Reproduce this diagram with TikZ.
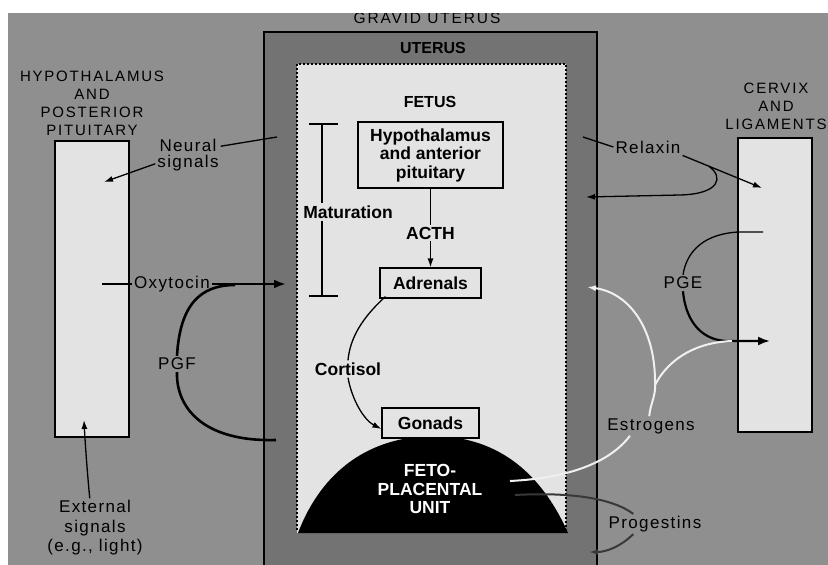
\documentclass[tikz,border=0pt]{standalone}
\usepackage{fontspec}
\setmainfont{Liberation Sans}
\newfontfamily\capsfont[LetterSpace=12]{Liberation Sans}
\newfontfamily\lblfont[LetterSpace=8]{Liberation Sans}
\usepackage{tikz}
\usetikzlibrary{positioning,arrows.meta,calc}
\usepackage{xcolor}
\definecolor{bggray}{gray}{0.56}
\definecolor{wallgray}{gray}{0.45}
\definecolor{paper}{gray}{0.89}
\definecolor{progray}{gray}{0.22}

\begin{document}
\begin{tikzpicture}[x=1pt,y=-1pt,>={Latex[length=9pt,width=6pt]},
  organ/.style={draw,fill=paper,line width=1.2pt,minimum width=74pt,inner sep=0pt},
  head/.style={font=\capsfont\fontsize{15}{18}\selectfont,align=center,inner sep=1pt},
  lbl/.style={font=\lblfont\fontsize{17}{19.5}\selectfont,align=center,inner sep=2pt},
  inlbl/.style={font=\bfseries\fontsize{17.5}{18.5}\selectfont,align=center,inner sep=2pt},
  inbox/.style={inlbl,draw,line width=1.2pt,fill=paper},
  conn/.style={line width=1.3pt},
  hormone/.style={line width=2.6pt,>={Latex[length=12pt,width=9pt]}},
  estro/.style={line width=2pt,draw=white!94!black,>={Latex[length=9pt,width=6pt]}}]
\useasboundingbox (0,0) rectangle (828,565);
\fill[white] (0,0) rectangle (828,565);
\fill[bggray] (8,13) rectangle (828,565);
\node[head,font=\capsfont\fontsize{15.5}{18}\selectfont] (grav) at (427,18) {GRAVID UTERUS};
\fill[white] (0,0) rectangle (828,13);
% uterus wall and fetus
\draw[fill=wallgray,line width=1.2pt] (264,32) rectangle (597,580);
\fill[paper] (297,64) rectangle (566,533);
\draw[line width=2pt,dash pattern=on 2pt off 2pt] (297,530) -- (297,64) -- (566,64) -- (566,530);
\fill[black] (298,533) .. controls (322,470) and (370,437) .. (432,436)
  .. controls (495,436) and (540,470) .. (568,533) -- cycle;
\node[inlbl,font=\bfseries\fontsize{16}{18}\selectfont] (ut) at (433,48) {UTERUS};
\node[inlbl,font=\bfseries\fontsize{16}{18}\selectfont] (fetus) at (430,102) {FETUS};
\node[inbox,minimum width=145pt,minimum height=66pt] (hyp) at (430.5,155) {Hypothalamus\\and anterior\\pituitary};
\node[inlbl] (acth) at (430.5,233) {ACTH};
\node[inbox,minimum width=101pt,minimum height=30pt,inner sep=0pt] (adr) at (430.5,283) {Adrenals};
\node[inbox,minimum width=97pt,minimum height=30pt,inner sep=0pt] (gon) at (430.5,423) {Gonads};
\node[inlbl,text=white] (fpu) at (430,489) {FETO-\\PLACENTAL\\UNIT};
\node[inlbl] (mat) at (348,212) {Maturation};
\node[inlbl] (cort) at (348,369) {Cortisol};
% side organs
\node[organ,minimum height=296pt] (hpp) at (92,289) {};
\node[head] (hpplbl) at (92,103) {HYPOTHALAMUS\\AND\\POSTERIOR\\PITUITARY};
\node[organ,minimum height=294pt] (cvx) at (775,285) {};
\node[head] (cvxlbl) at (776,106) {CERVIX\\AND\\LIGAMENTS};
% signal labels
\node[lbl] (neural) at (188,155) {Neural\\[-3.5pt]signals};
\node[lbl] (oxy) at (172,284) {Oxytocin};
\node[lbl] (pgf) at (177,364) {PGF};
\node[lbl] (ext) at (95,528) {External\\signals\\(e.g., light)};
\node[lbl] (relax) at (648,147) {Relaxin};
\node[lbl] (pge) at (683,283) {PGE};
\node[lbl] (est) at (651,426) {Estrogens};
\node[lbl] (prog) at (655,524) {Progestins};
% end points
\coordinate (nwall) at (277,137);
\coordinate (ntip) at (104,182);
\coordinate (ostart) at (102,284);
\coordinate (otip) at (286,284);
\coordinate (pgfwall) at (276,440);
\coordinate (etip) at (84,420);
\coordinate (rwall) at (583,137);
\coordinate (rtip) at (762,188);
\coordinate (rback) at (586,197);
\coordinate (pgein) at (763,232);
\coordinate (pgetip) at (770,341);
\coordinate (efpu) at (510,481);
\coordinate (ejoin) at (655,385);
\coordinate (etipl) at (587,287);
\coordinate (pfpu) at (515,495);
\coordinate (ptip) at (589,552);
\coordinate (mtop) at (322,124);
\coordinate (mbot) at (322,296);
% fetal axis
\draw[conn] (hyp) -- (acth);
\draw[conn,->] (acth) -- (adr);
\draw[conn] (mtop) -- (mtop |- mat.north);
\draw[conn] (mat.south -| mbot) -- (mbot);
\draw[conn] ([xshift=-13pt]mtop) -- ([xshift=16pt]mtop);
\draw[conn] ([xshift=-13pt]mbot) -- ([xshift=16pt]mbot);
\draw[conn] ([xshift=6pt,yshift=2pt]adr.south west) .. controls (362,318) and (350,338) .. (cort.north);
\draw[conn,->] (cort.south) .. controls (352,400) and (364,420) .. ([yshift=-6pt]gon.west);
% maternal side
\draw[conn] (neural.15) -- (nwall);
\draw[conn,->] (neural.195) -- (ntip);
\draw[conn,->] (ext.100) .. controls (87,470) and (85,440) .. (etip);
\draw[conn] (ostart) -- (oxy.west);
\draw[hormone] (pgfwall) .. controls (200,442) and (176,405) .. (pgf.south);
\draw[hormone] (pgf.north) .. controls (180,305) and (200,285) .. (235,285);
\draw[hormone,->] (oxy.east) -- (otip);
% cervix side
\draw[conn] (rwall) -- (relax.west);
\draw[conn,->] (relax.south east) -- coordinate[pos=0.33] (rloop) (rtip);
\draw[conn,->] (rloop) .. controls (724,177) and (720,194) .. (680,195) -- (rback);
\draw[conn] (pgein) -- (738,232) .. controls (705,234) and (687,250) .. (pge.north);
\draw[hormone,line width=2.2pt,->] (pge.south) .. controls (686,325) and (705,341) .. (728,341) -- (pgetip);
% placental hormones
\draw[estro] (efpu) .. controls (570,478) and (610,462) .. (est.205);
\draw[estro] (est.100) .. controls (650,405) and (656,395) .. (ejoin);
\draw[estro,->] (ejoin) .. controls (656,330) and (630,293) .. (etipl);
\draw[estro] (ejoin) .. controls (670,356) and (700,342) .. (732,341);
\draw[progray,line width=2pt] (pfpu) .. controls (570,492) and (612,498) .. (prog.155);
\draw[progray,line width=2pt,->] (prog.205) .. controls (620,547) and (606,552) .. (ptip);
\end{tikzpicture}
\end{document}
